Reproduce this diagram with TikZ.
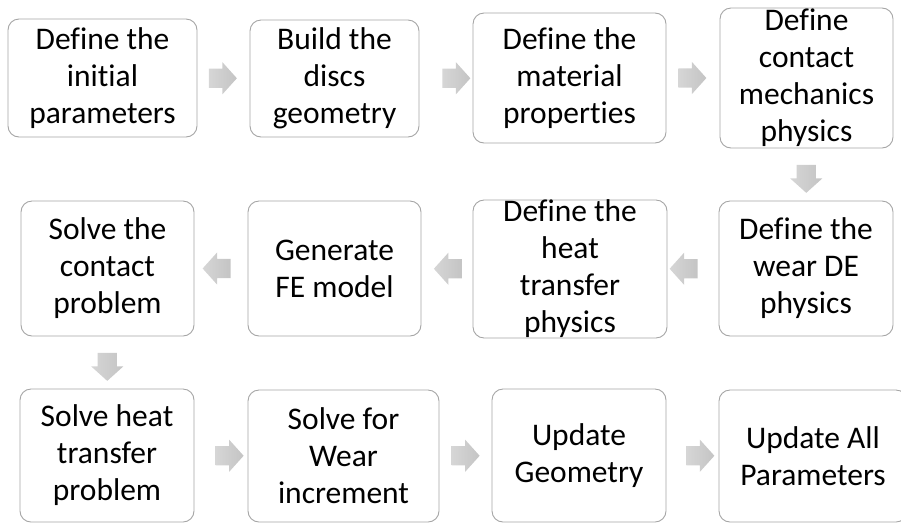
\documentclass[tikz,border=0pt]{standalone}
\usepackage{fontspec}
\setmainfont[RawFeature={-liga;-clig;-dlig;-calt}]{Carlito}
\usetikzlibrary{shapes.arrows,calc}
\definecolor{boxgray}{RGB}{165,165,165}
\definecolor{arrlight}{RGB}{214,214,214}
\definecolor{arrdark}{RGB}{196,196,196}
\begin{document}
\begin{tikzpicture}[x=1pt,y=-1pt,
	box/.style={draw=boxgray,line width=0.9pt,rounded corners=11pt,fill=white,align=center,inner sep=0pt,font=\fontsize{31.5}{37}\selectfont},
	arr/.style={single arrow,draw=none,inner sep=0pt,text height=19pt,text depth=0pt,text width=0pt,minimum height=28pt,single arrow head extend=6.5pt,single arrow tip angle=96,left color=arrlight,right color=arrdark}]
	\useasboundingbox (0,0) rectangle (901,523);
	\foreach \n/\x/\y/\w/\h/\t in {
		b1/102.5/78/189/118/{Define the\\initial\\parameters},
		b2/334.5/78.5/169/117/{Build the\\discs\\geometry},
		b3/569.5/78/193/130/{Define the\\material\\properties},
		b4/806.5/78/173/140/{Define\\contact\\mechanics\\physics},
		c1/107.5/268.5/173/135/{Solve the\\contact\\problem},
		c2/334.5/268.5/173/135/{Generate\\FE model},
		c3/570/269/194/134/{Define the\\heat\\transfer\\physics},
		c4/806/268.5/174/135/{Define the\\wear DE\\physics},
		d1/107/455.5/174/133/{Solve heat\\transfer\\problem},
		d2/343.5/456/191/132/{Solve for\\Wear\\increment},
		d3/579/455.5/174/133/{Update\\Geometry},
		d4/813/456/188/132/{Update All\\Parameters}}
	\node[box,minimum width=\w pt,minimum height=\h pt] (\n) at (\x,\y) {\t};
	% block arrows between the steps
	\foreach \p/\q/\r in {b1/b2/0,b2/b3/0,b3/b4/0,c4/c3/180,c3/c2/180,c2/c1/180,d1/d2/0,d2/d3/0,d3/d4/0}
	\node[arr,rotate=\r] (a-\p) at ($(\p)!0.5!(\q)$) {};
	\node[arr,rotate=-90] (a-b4) at ($(b4.south)!0.5!(c4.north)$) {};
	\node[arr,rotate=-90] (a-c1) at ($(c1.south)!0.5!(d1.north)$) {};
\end{tikzpicture}
\end{document}
